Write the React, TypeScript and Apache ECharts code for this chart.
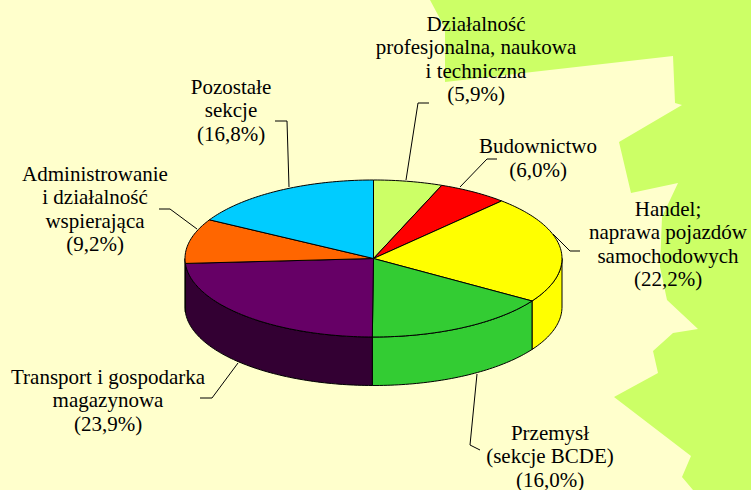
import React, { useEffect, useRef } from 'react';
import * as echarts from 'echarts';

// ---- data ----
const CATEGORIES: string[] = [
  'Działalność\nprofesjonalna, naukowa\ni techniczna',
  'Budownictwo',
  'Handel;\nnaprawa pojazdów\nsamochodowych',
  'Przemysł\n(sekcje BCDE)',
  'Transport i gospodarka\nmagazynowa',
  'Administrowanie\ni działalność\nwspierająca',
  'Pozostałe\nsekcje',
];
const SHARES: number[] = [5.9, 6.0, 22.2, 16.0, 23.9, 9.2, 16.8];

// ---- styles ----
const TOP_COLORS = ['#CCFF66', '#FF0000', '#FFFF00', '#33CC33', '#660066', '#FF6600', '#00CCFF'];
const SIDE_COLORS = ['#99CC4D', '#CC0000', '#FFFF00', '#33CC33', '#330033', '#CC5200', '#0099CC'];
const FONT_FAMILY = 'Liberation Serif';

// label layout (centre of each text block) and leader lines
const LABEL_POS: number[][] = [
  [476, 59], [538, 158], [668, 244], [550, 456], [108, 400], [95, 209], [231, 110],
];
const LINE_H = 23.5;
const LEADERS: number[][][] = [
  [[429, 103], [418, 103], [406, 180]],
  [[497, 159], [487, 159], [460, 187]],
  [[580, 251], [570, 251], [553, 234]],
  [[480, 450], [470, 445], [477, 374]],
  [[200, 398], [212, 398], [238, 363]],
  [[159, 209], [170, 209], [197, 229]],
  [[275, 121], [287, 121], [289, 187]],
];

const MAP_SHAPE: number[][] = [
  [430, 0], [751, 0], [751, 490], [693, 490], [682, 477], [691, 456], [614, 397],
  [658, 373], [653, 351], [673, 333], [698, 329], [667, 300], [660, 267], [662, 217],
  [678, 183], [631, 193], [619, 142], [682, 105], [675, 103], [673, 56], [445, 82],
  [445, 28],
];

const CX = 373.5;
const CY = 258.5;
const RX = 188.5;
const RY = 78.5;
const DEPTH = 48.5;

const fmtPct = (v: number) => '(' + v.toFixed(1).replace('.', ',') + '%)';

function pt(theta: number, dy = 0): number[] {
  return [CX + RX * Math.sin(theta), CY - RY * Math.cos(theta) + dy];
}

export default function App() {
  const ref = useRef<HTMLDivElement>(null);
  useEffect(() => {
    if (!ref.current) return;
    const chart = echarts.init(ref.current, undefined, { renderer: 'svg' });
    const total = SHARES.reduce((a, b) => a + b, 0);
    const starts: number[] = [];
    let acc = 0;
    SHARES.forEach((v) => {
      starts.push(acc);
      acc += v;
    });
    const angles = (i: number, v: number) => {
      const a0 = (starts[i] / total) * Math.PI * 2;
      const a1 = a0 + (v / total) * Math.PI * 2;
      return [a0, a1];
    };

    const data = SHARES.map((v, i) => ({ name: CATEGORIES[i], value: [v] }));

    const graphics: any[] = [
      {
        type: 'polygon',
        shape: { points: MAP_SHAPE },
        style: { fill: '#CCFF66' },
        silent: true,
      },
    ];
    LEADERS.forEach((pts) => {
      graphics.push({
        type: 'polyline',
        shape: { points: pts },
        style: { stroke: '#000', lineWidth: 1, fill: 'none' },
      });
    });
    SHARES.forEach((v, i) => {
      const lines = (CATEGORIES[i] + '\n' + fmtPct(v)).split('\n');
      const n = lines.length;
      lines.forEach((line, k) => {
        graphics.push({
          type: 'text',
          x: LABEL_POS[i][0],
          y: LABEL_POS[i][1] + (k - (n - 1) / 2) * LINE_H,
          style: {
            text: line,
            fill: '#000',
            fontSize: 21,
            fontFamily: FONT_FAMILY,
            align: 'center',
            verticalAlign: 'middle',
          },
        });
      });
    });

    chart.setOption({
      animation: false,
      backgroundColor: '#FFFFCC',
      textStyle: { fontFamily: FONT_FAMILY, fontSize: 21, color: '#000' },
      graphic: graphics,
      series: [
        {
          type: 'custom',
          coordinateSystem: 'none',
          z: 5,
          data,
          renderItem: (params: any, api: any) => {
            const i = params.dataIndex;
            const v = api.value(0);
            let [a0, a1] = angles(i, v);
            a0 = Math.max(a0, Math.PI / 2);
            a1 = Math.min(a1, (Math.PI * 3) / 2);
            if (a1 <= a0) return { type: 'group', children: [] };
            const n = Math.max(2, Math.ceil((a1 - a0) / 0.02));
            const top: number[][] = [];
            const bot: number[][] = [];
            for (let k = 0; k <= n; k++) {
              const t = a0 + ((a1 - a0) * k) / n;
              top.push(pt(t));
              bot.push(pt(t, DEPTH));
            }
            const points = top.concat(bot.reverse());
            return {
              type: 'polygon',
              shape: { points },
              style: { fill: SIDE_COLORS[i], stroke: '#000', lineWidth: 1, lineJoin: 'round' },
            };
          },
        },
        {
          type: 'custom',
          coordinateSystem: 'none',
          z: 6,
          data,
          renderItem: (params: any, api: any) => {
            const i = params.dataIndex;
            const v = api.value(0);
            const [a0, a1] = angles(i, v);
            const n = Math.max(2, Math.ceil((a1 - a0) / 0.02));
            const points: number[][] = [[CX, CY]];
            for (let k = 0; k <= n; k++) {
              points.push(pt(a0 + ((a1 - a0) * k) / n));
            }
            return {
              type: 'polygon',
              shape: { points },
              style: { fill: TOP_COLORS[i], stroke: '#000', lineWidth: 1, lineJoin: 'round' },
            };
          },
        },
      ],
    });
    return () => chart.dispose();
  }, []);
  return (
    <div
      ref={ref}
      style={{ position: 'fixed', left: 0, top: 0, width: 751, height: 490 }}
    />
  );
}
